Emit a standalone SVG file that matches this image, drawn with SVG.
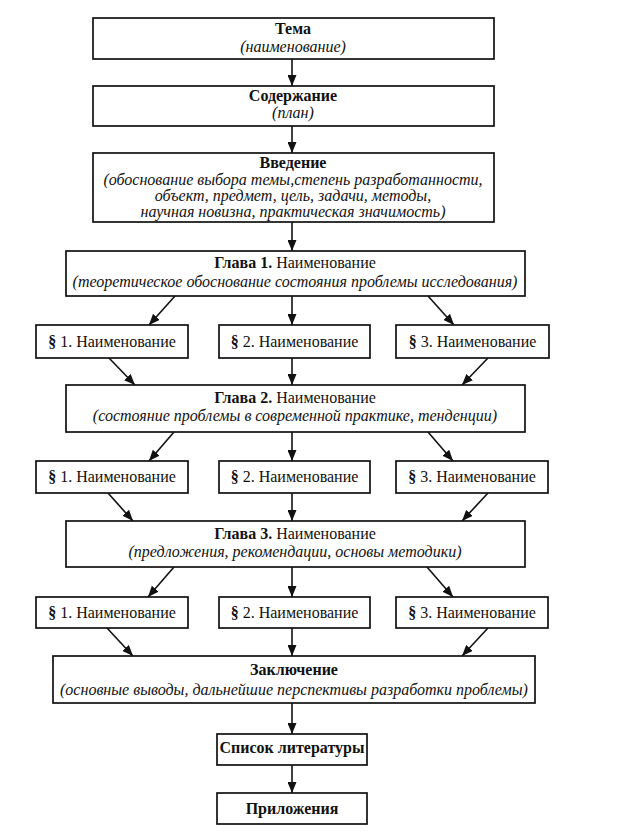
<svg xmlns="http://www.w3.org/2000/svg" width="626" height="839" viewBox="0 0 626 839">
<defs>
<style>
.box{fill:#fff;stroke:#111;stroke-width:1.7}
.t{font-family:"Liberation Serif","Times New Roman",serif;font-size:16px;fill:#111;text-anchor:middle}
.b{font-weight:bold}
.i{font-style:italic}
.c{stroke:#111;stroke-width:1.6;fill:none;marker-end:url(#ah)}
</style>
<marker id="ah" viewBox="0 0 11 9" refX="11" refY="4.5" markerWidth="11" markerHeight="9" markerUnits="userSpaceOnUse" orient="auto">
<path d="M0,0 L11,4.5 L0,9 z" fill="#111"/>
</marker>
</defs>
<rect width="626" height="839" fill="#fff"/>

<g id="connectors">
<line class="c" x1="292" y1="59" x2="292" y2="86"/>
<line class="c" x1="292" y1="126" x2="292" y2="153"/>
<line class="c" x1="292" y1="222" x2="292" y2="251"/>
<line class="c" x1="175" y1="296" x2="149" y2="325"/>
<line class="c" x1="292" y1="296" x2="292" y2="325"/>
<line class="c" x1="428" y1="296" x2="454" y2="325"/>
<line class="c" x1="109" y1="358" x2="135" y2="385"/>
<line class="c" x1="292" y1="358" x2="292" y2="385"/>
<line class="c" x1="488" y1="358" x2="462" y2="385"/>
<line class="c" x1="174" y1="432" x2="149" y2="461"/>
<line class="c" x1="292" y1="432" x2="292" y2="461"/>
<line class="c" x1="428" y1="432" x2="453" y2="461"/>
<line class="c" x1="108" y1="493" x2="133" y2="521"/>
<line class="c" x1="292" y1="493" x2="292" y2="521"/>
<line class="c" x1="488" y1="493" x2="462" y2="521"/>
<line class="c" x1="174" y1="567" x2="148" y2="597"/>
<line class="c" x1="292" y1="567" x2="292" y2="597"/>
<line class="c" x1="427" y1="567" x2="453" y2="597"/>
<line class="c" x1="107" y1="628" x2="133" y2="656"/>
<line class="c" x1="292" y1="628" x2="292" y2="656"/>
<line class="c" x1="488" y1="628" x2="462" y2="656"/>
<line class="c" x1="292" y1="703" x2="292" y2="734"/>
<line class="c" x1="292" y1="765" x2="292" y2="793"/>
</g>

<g id="tema">
<rect class="box" x="93" y="18" width="401" height="41"/>
<text class="t b" x="293" y="34">Тема</text>
<text class="t i" x="293" y="52">(наименование)</text>
</g>

<g id="soderzhanie">
<rect class="box" x="93" y="86" width="401" height="40"/>
<text class="t b" x="293" y="101">Содержание</text>
<text class="t i" x="293" y="118">(план)</text>
</g>

<g id="vvedenie">
<rect class="box" x="93" y="153" width="401" height="69"/>
<text class="t b" x="293" y="168">Введение</text>
<text class="t i" x="293" y="185">(обоснование выбора темы,степень разработанности,</text>
<text class="t i" x="293" y="201">объект, предмет, цель, задачи, методы,</text>
<text class="t i" x="293" y="217">научная новизна, практическая значимость)</text>
</g>

<g id="glava1">
<rect class="box" x="66" y="251" width="459" height="45"/>
<text class="t" x="295" y="268"><tspan class="b">Глава 1.</tspan> Наименование</text>
<text class="t i" x="295" y="287">(теоретическое обоснование состояния проблемы исследования)</text>
</g>

<g id="g1p1">
<rect class="box" x="36" y="325" width="152" height="33"/>
<text class="t" x="112" y="347"><tspan class="b">§</tspan> 1. Наименование</text>
</g>
<g id="g1p2">
<rect class="box" x="219" y="325" width="151" height="33"/>
<text class="t" x="294.5" y="347"><tspan class="b">§</tspan> 2. Наименование</text>
</g>
<g id="g1p3">
<rect class="box" x="396" y="325" width="153" height="33"/>
<text class="t" x="472.5" y="347"><tspan class="b">§</tspan> 3. Наименование</text>
</g>

<g id="glava2">
<rect class="box" x="66" y="385" width="459" height="47"/>
<text class="t" x="295" y="403"><tspan class="b">Глава 2.</tspan> Наименование</text>
<text class="t i" x="295" y="421">(состояние проблемы в современной практике, тенденции)</text>
</g>

<g id="g2p1">
<rect class="box" x="36" y="461" width="152" height="32"/>
<text class="t" x="112" y="482"><tspan class="b">§</tspan> 1. Наименование</text>
</g>
<g id="g2p2">
<rect class="box" x="219" y="461" width="151" height="32"/>
<text class="t" x="294.5" y="482"><tspan class="b">§</tspan> 2. Наименование</text>
</g>
<g id="g2p3">
<rect class="box" x="396" y="461" width="152" height="32"/>
<text class="t" x="472" y="482"><tspan class="b">§</tspan> 3. Наименование</text>
</g>

<g id="glava3">
<rect class="box" x="66" y="521" width="459" height="46"/>
<text class="t" x="295" y="539"><tspan class="b">Глава 3.</tspan> Наименование</text>
<text class="t i" x="295" y="557">(предложения, рекомендации, основы методики)</text>
</g>

<g id="g3p1">
<rect class="box" x="36" y="597" width="152" height="31"/>
<text class="t" x="112" y="618"><tspan class="b">§</tspan> 1. Наименование</text>
</g>
<g id="g3p2">
<rect class="box" x="219" y="597" width="151" height="31"/>
<text class="t" x="294.5" y="618"><tspan class="b">§</tspan> 2. Наименование</text>
</g>
<g id="g3p3">
<rect class="box" x="396" y="597" width="152" height="31"/>
<text class="t" x="472" y="618"><tspan class="b">§</tspan> 3. Наименование</text>
</g>

<g id="zakluchenie">
<rect class="box" x="53" y="656" width="482" height="47"/>
<text class="t b" x="294" y="675">Заключение</text>
<text class="t i" x="294" y="695">(основные выводы, дальнейшие перспективы разработки проблемы)</text>
</g>

<g id="spisok">
<rect class="box" x="217" y="734" width="150" height="31"/>
<text class="t b" x="292" y="753">Список литературы</text>
</g>

<g id="prilozheniya">
<rect class="box" x="217" y="793" width="150" height="31"/>
<text class="t b" x="292" y="814">Приложения</text>
</g>
</svg>
